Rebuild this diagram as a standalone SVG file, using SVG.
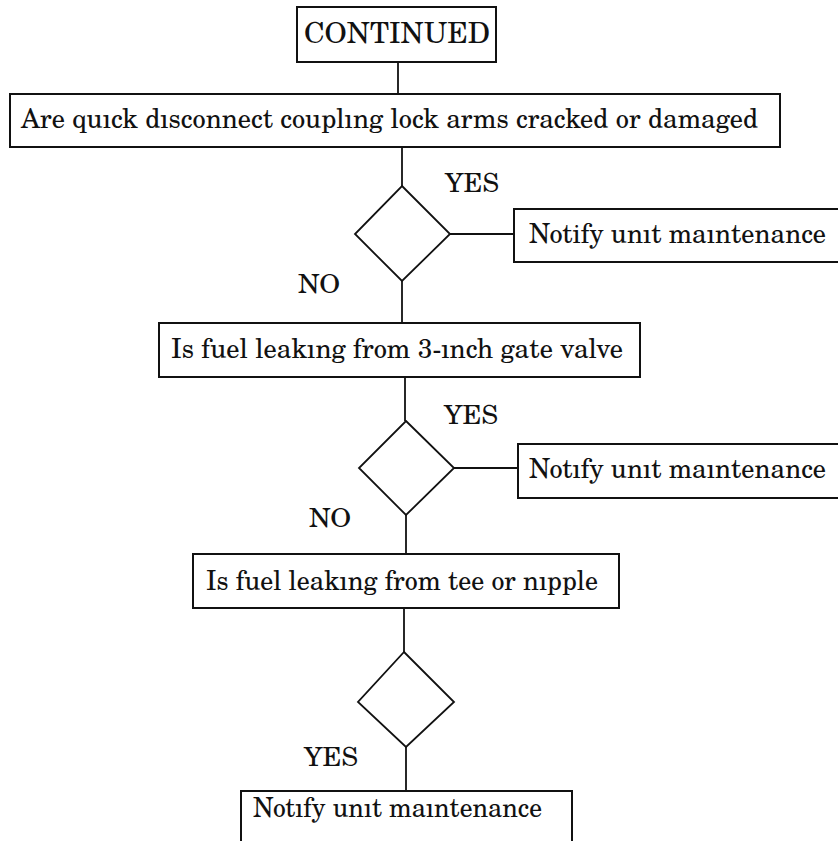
<svg xmlns="http://www.w3.org/2000/svg" width="838" height="841" viewBox="0 0 838 841">
  <style>
    .box { fill: #ffffff; stroke: #111111; stroke-width: 2; }
    .dia { fill: #ffffff; stroke: #111111; stroke-width: 1.8; stroke-linejoin: miter; }
    .wire { stroke: #111111; stroke-width: 1.8; fill: none; }
    text { font-family: "TeX Gyre Schola", "Liberation Serif", "DejaVu Serif", serif; font-size: 27px; fill: #111111; }
    .lbl { font-size: 26px; }
    .head { font-size: 28.5px; }
  </style>
  <rect x="0" y="0" width="838" height="841" fill="#ffffff"/>

  <!-- connectors -->
  <g id="connectors">
    <line class="wire" x1="398" y1="62" x2="398" y2="94"/>
    <line class="wire" x1="402" y1="147" x2="402" y2="186"/>
    <line class="wire" x1="450" y1="234" x2="514" y2="234"/>
    <line class="wire" x1="402" y1="281" x2="402" y2="323"/>
    <line class="wire" x1="405" y1="377" x2="405" y2="421"/>
    <line class="wire" x1="454" y1="468" x2="518" y2="468"/>
    <line class="wire" x1="406" y1="515" x2="406" y2="554"/>
    <line class="wire" x1="404" y1="608" x2="404" y2="652"/>
    <line class="wire" x1="406" y1="747" x2="406" y2="791"/>
    <text class="lbl" x="445" y="192" textLength="54" lengthAdjust="spacingAndGlyphs">YES</text>
    <text class="lbl" x="298" y="293" textLength="42" lengthAdjust="spacingAndGlyphs">NO</text>
    <text class="lbl" x="444" y="424" textLength="54" lengthAdjust="spacingAndGlyphs">YES</text>
    <text class="lbl" x="309" y="527" textLength="42" lengthAdjust="spacingAndGlyphs">NO</text>
    <text class="lbl" x="304" y="766" textLength="54" lengthAdjust="spacingAndGlyphs">YES</text>
  </g>

  <g id="continued">
    <rect class="box" x="297" y="7" width="199" height="55"/>
    <text class="head" x="304" y="43" textLength="186" lengthAdjust="spacingAndGlyphs">CONTINUED</text>
  </g>

  <g id="q-lock-arms">
    <rect class="box" x="10" y="94" width="770" height="53"/>
    <text x="21" y="128" textLength="737" lengthAdjust="spacingAndGlyphs">Are quıck dısconnect couplıng lock arms cracked or damaged</text>
  </g>

  <g id="decision-1">
    <polygon class="dia" points="402,186 450,234 402,281 355,234"/>
  </g>

  <g id="notify-1">
    <rect class="box" x="514" y="209" width="340" height="53"/>
    <text x="529" y="243" textLength="297" lengthAdjust="spacingAndGlyphs">Notify unıt maıntenance</text>
  </g>

  <g id="q-gate-valve">
    <rect class="box" x="159" y="323" width="481" height="54"/>
    <text x="171" y="358" textLength="452" lengthAdjust="spacingAndGlyphs">Is fuel leakıng from 3-ınch gate valve</text>
  </g>

  <g id="decision-2">
    <polygon class="dia" points="406,421 454,468 406,515 359,468"/>
  </g>

  <g id="notify-2">
    <rect class="box" x="518" y="444" width="340" height="54"/>
    <text x="529" y="478" textLength="297" lengthAdjust="spacingAndGlyphs">Notıfy unıt maıntenance</text>
  </g>

  <g id="q-tee-nipple">
    <rect class="box" x="193" y="554" width="426" height="54"/>
    <text x="206" y="590" textLength="392" lengthAdjust="spacingAndGlyphs">Is fuel leakıng from tee or nıpple</text>
  </g>

  <g id="decision-3">
    <polygon class="dia" points="404,652 454,702 406,747 358,702"/>
  </g>

  <g id="notify-3">
    <rect class="box" x="241" y="791" width="331" height="80"/>
    <text x="253" y="817" textLength="289" lengthAdjust="spacingAndGlyphs">Notıfy unıt maıntenance</text>
  </g>
</svg>
